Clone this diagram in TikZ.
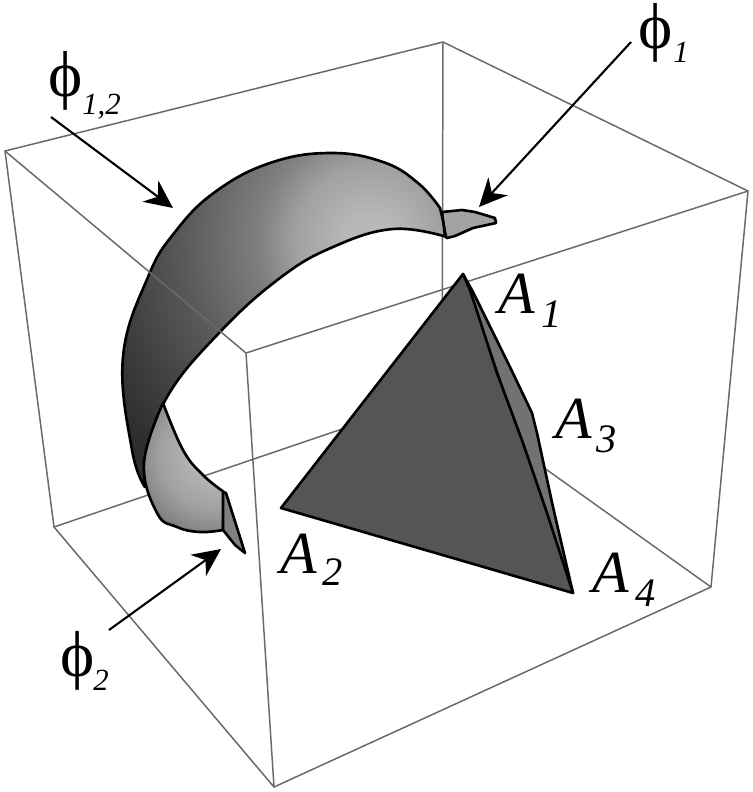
\documentclass[tikz,border=0pt]{standalone}
\usepackage{fontspec}
\setmainfont{Liberation Serif}
\usetikzlibrary{arrows.meta}
\definecolor{boxgray}{HTML}{6A6A6A}
\definecolor{frontface}{HTML}{555555}
\definecolor{backface}{HTML}{727272}
\pgfdeclareradialshading{ribbonlight}{\pgfpoint{0bp}{0bp}}{color(0bp)=(black!28); color(1.8bp)=(black!28); color(5.5bp)=(black!37); color(8.2bp)=(black!50); color(13.8bp)=(black!65); color(18.5bp)=(black!75); color(22.4bp)=(black!82); color(50bp)=(black!82)}
\newcommand{\ribbonpath}{plot [smooth,tension=0.7] coordinates {(440,208) (418,183) (383,162) (330,153) (270,163) (215,192) (175,232) (148,277) (123,357) (132,450) (145,487)} -- plot [smooth,tension=0.7] coordinates {(144,463) (167,397) (220,332) (280,278) (333,247) (393,229) (447,237)} -- cycle}
\newcommand{\lowerpath}{plot [smooth,tension=0.7] coordinates {(163,403) (183,450) (203,475) (224,492)} -- (223,530) -- plot [smooth,tension=0.7] coordinates {(223,530) (200,532) (177,527) (157,513) (144,463) (163,403)} -- cycle}
\tikzset{boxedge/.style = {boxgray, line width=0.85pt}}
\tikzset{rim/.style = {black, line width=1.5pt, line join=round}}
\tikzset{pointer/.style = {-{Stealth[length=16pt,width=15pt]}, black, line width=1.2pt}}
\tikzset{biglabel/.style = {inner sep=0, anchor=base west, font=\fontsize{34}{34}\selectfont\itshape}}
\tikzset{philabel/.style = {inner sep=0, anchor=base west, font=\fontsize{37}{37}\selectfont}}
\tikzset{subbig/.style = {inner sep=0, anchor=base west, font=\fontsize{23}{23}\selectfont\itshape}}
\tikzset{subphi/.style = {inner sep=0, anchor=base west, font=\fontsize{17.5}{18}\selectfont\itshape}}
\begin{document}
\begin{tikzpicture}[x=0.02cm,y=-0.02cm]
    \useasboundingbox (0,0) rectangle (753,792);
    \coordinate (topleft) at (5,151);
    \coordinate (topback) at (443,42);
    \coordinate (topright) at (748,191);
    \coordinate (topfront) at (246,353);
    \coordinate (botleft) at (54,527);
    \coordinate (botback) at (442,395);
    \coordinate (botright) at (711,587);
    \coordinate (botfront) at (274,787);
    \draw [boxedge] (topleft)--(topback)--(topright)--(botright)--(botfront)--(botleft)--cycle;
    \draw [boxedge] (topfront)--(topright);
    \draw [boxedge] (topfront)--(botfront);
    \draw [boxedge] (topback)--(botback);
    \draw [boxedge] (botleft)--(botback)--(botright);
    \begin{scope}
        \clip \ribbonpath;
        \shade [shading=ribbonlight] (30,-100) rectangle (710,580);
    \end{scope}
    \draw [rim] \ribbonpath;
    \draw [boxedge] (topleft)--(topfront);
    \begin{scope}
        \clip \lowerpath;
        \shade [shading=ribbonlight] (-35,205) rectangle (465,705);
    \end{scope}
    \draw [rim] \lowerpath;
    \filldraw [rim, fill=black!50] (223,492)--(226,493)--(245,553)--(235,545)--(223,530)--cycle;
    \draw [black, line width=0.4pt] (223,492)--(223,530);
    \filldraw [rim, fill=black!36] (442,212)--(462,210)--(475,212)--(495,218)--(496,223)--(473,228)--(455,236)--(447,238)--(445,236)--cycle;
    \draw [black, line width=0.6pt] (442,212)--(447,238);
    \coordinate (Aone) at (463,274);
    \coordinate (Atwo) at (281,508);
    \coordinate (Afour) at (573,593);
    \filldraw [rim, fill=backface] (Aone)--(473,292)--(510,367)--(532,413)--(537,433)--(553,507)--(Afour)--cycle;
    \filldraw [rim, fill=frontface] (Aone)--(470,290)--(497,373)--(523,443)--(547,513)--(Afour)--(Atwo)--cycle;
    \node [biglabel] (labelAone) at (498,313) {A};
    \node [subbig] (subAone) at (541,327) {1};
    \node [biglabel] (labelAtwo) at (280,573) {A};
    \node [subbig] (subAtwo) at (322,585) {2};
    \node [biglabel] (labelAthree) at (555,438) {A};
    \node [subbig] (subAthree) at (596,452) {3};
    \node [biglabel] (labelAfour) at (592,592) {A};
    \node [subbig] (subAfour) at (635,606) {4};
    \node [philabel] (labelphione) at (638,48) {ϕ};
    \node [subphi] (subphione) at (673,62) {1};
    \node [philabel] (labelphitwo) at (60,676) {ϕ};
    \node [subphi] (subphitwo) at (93,690) {2};
    \node [philabel] (labelphiboth) at (48,96) {ϕ};
    \node [subphi] (subphiboth) at (82,114) {1,2};
    \coordinate (startone) at (631,42);
    \coordinate (tipone) at (479,207);
    \coordinate (starttwo) at (109,630);
    \coordinate (tiptwo) at (221,549);
    \coordinate (startboth) at (51,117);
    \coordinate (tipboth) at (173,208);
    \draw [pointer] (startone)--(tipone);
    \draw [pointer] (starttwo)--(tiptwo);
    \draw [pointer] (startboth)--(tipboth);
\end{tikzpicture}
\end{document}
